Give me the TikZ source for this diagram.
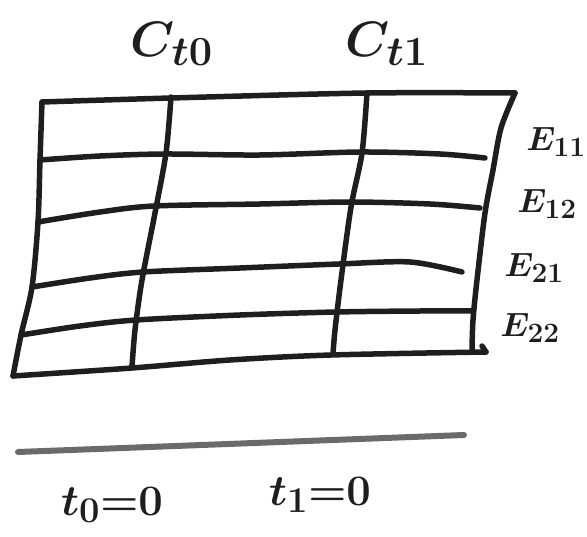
\documentclass[tikz,border=0pt]{standalone}
\definecolor{ink}{HTML}{1E1E1E}
\definecolor{pencil}{HTML}{6A6A6A}
\begin{document}
\begin{tikzpicture}[x=1pt,y=-1pt,
  gridline/.style={line width=5.5pt, draw=ink, line cap=round, line join=round},
  sepline/.style={line width=6pt, draw=pencil, line cap=round},
  lbl/.style={text=ink, inner sep=0pt, font=\Huge\boldmath},
  biglbl/.style={lbl, scale=2},
  rowlbl/.style={lbl, scale=1.35},
  botlbl/.style={lbl, scale=1.75}]
\useasboundingbox (0,0) rectangle (587,537);
% corners
\coordinate (tl) at (42,102);
\coordinate (tr) at (515,93);
\coordinate (bl) at (13,376);
\coordinate (br) at (486,352);
% outer frame
\draw[gridline] plot[smooth, tension=0.5] coordinates {(tl) (171,98) (367,93) (tr)};
\draw[gridline] plot[smooth, tension=0.5] coordinates {(tl) (40,160) (38,222) (32,287) (21,335) (bl)};
\draw[gridline] plot[smooth, tension=0.5] coordinates {(bl) (132,368) (230,360) (331,355) (br)};
\draw[gridline] plot[smooth, tension=0.5] coordinates {(tr) (501,128) (493,170) (485,213) (477,280) (473,320) (472,350)};
\draw[gridline] (br) -- (482,346);
% row lines
\draw[gridline] plot[smooth, tension=0.5] coordinates {(40,160) (100,156) (165,154) (260,155) (361,152) (440,154) (485,158)};
\draw[gridline] plot[smooth, tension=0.5] coordinates {(38,222) (100,212) (154,206) (260,204) (350,202) (430,204) (480,208)};
\draw[gridline] plot[smooth, tension=0.5] coordinates {(32,287) (90,278) (143,272) (240,268) (339,264) (410,262) (462,272)};
\draw[gridline] plot[smooth, tension=0.5] coordinates {(21,335) (80,326) (136,320) (240,315) (336,312) (420,311) (473,311)};
% column lines
\draw[gridline] plot[smooth, tension=0.5] coordinates {(171,97) (166,153) (155,213) (142,280) (135,330) (132,367)};
\draw[gridline] plot[smooth, tension=0.5] coordinates {(367,93) (362,153) (351,207) (341,280) (335,330) (333,354)};
% separate line
\coordinate (sl) at (18,452);
\coordinate (sr) at (464,435);
\draw[sepline] (sl) -- (sr);
% labels
\node[biglbl] (ct0) at (172,44) {$C_{t0}$};
\node[biglbl] (ct1) at (387,44) {$C_{t1}$};
\node[rowlbl] (e11) at (556,142) {$E_{11}$};
\node[rowlbl] (e12) at (547,204) {$E_{12}$};
\node[rowlbl] (e21) at (534,268) {$E_{21}$};
\node[rowlbl] (e22) at (530,328) {$E_{22}$};
\node[botlbl] (t0) at (112,505) {$t_0{=}0$};
\node[botlbl] (t1) at (320,495) {$t_1{=}0$};
\end{tikzpicture}
\end{document}
